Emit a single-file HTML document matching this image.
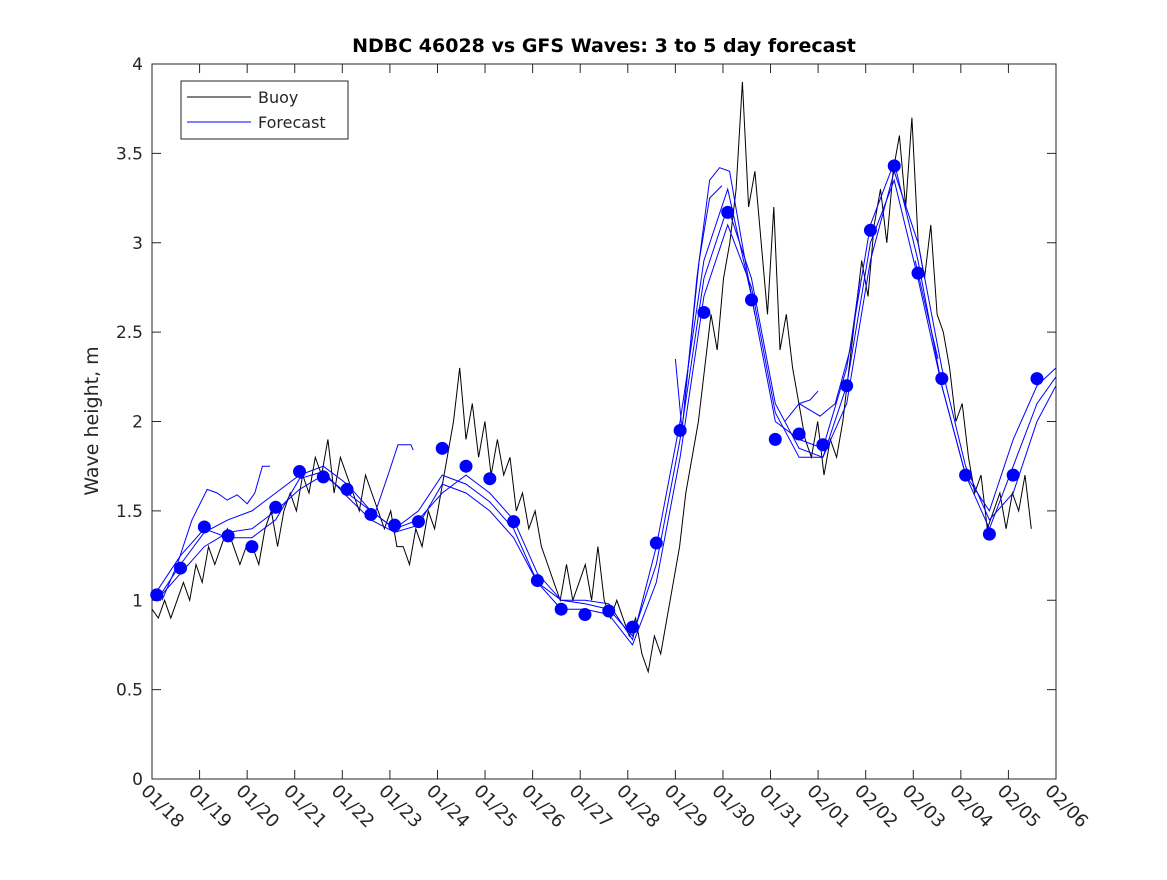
<!DOCTYPE html>
<html><head><meta charset="utf-8"><style>
body{margin:0;background:#fff}
svg text{font-family:"DejaVu Sans","Liberation Sans",sans-serif}
</style></head><body>
<svg id="chart" width="1167" height="875">
<rect width="1167" height="875" fill="#fff"/>
<text x="604" y="52" text-anchor="middle" font-size="19" font-weight="bold">NDBC 46028 vs GFS Waves: 3 to 5 day forecast</text>
<text transform="translate(98,421) rotate(-90)" text-anchor="middle" font-size="19" fill="#262626">Wave height, m</text>
<g id="axes"></g>
<g id="marks"></g>
<g>
<rect x="181" y="81" width="167" height="58" fill="#fff" stroke="#262626" stroke-width="1"/>
<line x1="187" y1="97" x2="251" y2="97" stroke="#000"/>
<text x="258" y="103" font-size="16" fill="#262626">Buoy</text>
<line x1="187" y1="122" x2="251" y2="122" stroke="#00f"/>
<text x="258" y="128" font-size="16" fill="#262626">Forecast</text>
</g>
</svg>
<script>
const xTickLabels=["01/18","01/19","01/20","01/21","01/22","01/23","01/24","01/25","01/26","01/27","01/28","01/29","01/30","01/31","02/01","02/02","02/03","02/04","02/05","02/06"];
const yTicks=[0,0.5,1,1.5,2,2.5,3,3.5,4];
const yTickLabels=["0","0.5","1","1.5","2","2.5","3","3.5","4"];
const buoyStart=0, buoyStepDays=0.132;
const buoy=[0.95,0.9,1.0,0.9,1.0,1.1,1.0,1.2,
1.1,1.3,1.2,1.3,1.4,1.3,1.2,1.3,
1.3,1.2,1.4,1.5,1.3,1.5,1.6,1.5,
1.7,1.6,1.8,1.7,1.9,1.6,1.8,1.7,
1.6,1.5,1.7,1.6,1.5,1.4,1.5,1.3,
1.3,1.2,1.4,1.3,1.5,1.4,1.6,1.8,
2.0,2.3,1.9,2.1,1.8,2.0,1.7,1.9,
1.7,1.8,1.5,1.6,1.4,1.5,1.3,1.2,
1.1,1.0,1.2,1.0,1.1,1.2,1.0,1.3,
1.0,0.9,1.0,0.9,0.8,0.9,0.7,0.6,
0.8,0.7,0.9,1.1,1.3,1.6,1.8,2.0,
2.3,2.6,2.4,2.8,3.0,3.3,3.9,3.2,
3.4,3.0,2.6,3.2,2.4,2.6,2.3,2.1,
1.9,1.8,2.0,1.7,1.9,1.8,2.0,
2.3,2.6,2.9,2.7,3.1,3.3,3.0,3.4,
3.6,3.2,3.7,3.0,2.8,3.1,2.6,2.5,
2.3,2.0,2.1,1.8,1.6,1.7,1.4,1.5,
1.6,1.4,1.6,1.5,1.7,1.4];
const dotTimes=[0.1,0.6,1.1,1.6,2.1,2.6,3.1,3.6,4.1,4.6,5.1,5.6,6.1,6.6,7.1,7.6,8.1,8.6,9.1,9.6,10.1,10.6,11.1,11.6,12.1,12.6,13.1,13.6,14.1,14.6,15.1,15.6,16.1,16.6,17.1,17.6,18.1,18.6];
const dotValues=[1.03,1.18,1.41,1.36,1.30,1.52,1.72,1.69,1.62,1.48,1.42,1.44,1.85,1.75,1.68,1.44,1.11,0.95,0.92,0.94,0.85,1.32,1.95,2.61,3.17,2.68,1.90,1.93,1.87,2.20,3.07,3.43,2.83,2.24,1.70,1.37,1.70,2.24];
const fcTimes=[0.1,0.6,1.1,1.6,2.1,2.6,3.1,3.6,4.1,4.6,5.1,5.6,6.1,6.6,7.1,7.6,8.1,8.6,9.1,9.6,10.1,10.6,11.1,11.6,12.1,12.6,13.1,13.6,14.1,14.6,15.1,15.6,16.1,16.6,17.1,17.6,18.1,18.6,19];
const fc1=[1.0,1.15,1.3,1.38,1.4,1.5,1.62,1.7,1.6,1.5,1.4,1.45,1.6,1.7,1.6,1.45,1.15,1.0,0.98,0.95,0.8,1.2,1.9,2.8,3.2,2.8,2.1,1.85,1.8,2.1,2.9,3.4,3.0,2.3,1.75,1.45,1.6,2.0,2.2];
const fc2=[1.0,1.2,1.38,1.45,1.5,1.6,1.7,1.75,1.65,1.5,1.4,1.5,1.7,1.65,1.55,1.4,1.1,1.0,1.0,0.98,0.78,1.3,2.0,2.9,3.3,2.7,2.0,1.9,1.85,2.3,3.1,3.45,2.9,2.2,1.7,1.4,1.75,2.1,2.25];
const fc3=[1.05,1.25,1.4,1.35,1.35,1.45,1.68,1.72,1.58,1.45,1.38,1.42,1.65,1.6,1.5,1.35,1.1,0.95,0.95,0.92,0.75,1.1,1.8,2.7,3.1,2.75,2.05,1.8,1.8,2.2,3.0,3.35,2.8,2.2,1.7,1.5,1.9,2.2,2.3];
const segATimes=[0.21,0.53,0.84,1.16,1.37,1.58,1.79,2.0,2.16,2.32,2.48], segAValues=[1.0,1.2,1.45,1.62,1.6,1.56,1.59,1.54,1.6,1.75,1.75];
const segBTimes=[4.64,4.96,5.17,5.44,5.49], segBValues=[1.45,1.7,1.87,1.87,1.84];
const segCTimes=[11.0,11.14], segCValues=[2.35,1.95];
const segDTimes=[11.14,11.45,11.72,11.93,12.14,12.4,12.67], segDValues=[1.95,2.8,3.35,3.42,3.4,3.0,2.6];
const segETimes=[11.19,11.5,11.72,11.98], segEValues=[2.1,2.9,3.25,3.32];
const segFTimes=[13.3,13.6,13.83,14.0], segFValues=[2.0,2.1,2.12,2.17];
const segGTimes=[13.6,14.04,14.36,14.67,14.88], segGValues=[2.1,2.03,2.1,2.4,2.8];
const segHTimes=[16.04,16.3,16.52], segHValues=[2.9,2.6,2.35];

const X0=152,X1=1056,Y0=779,Y1=64;
const xs=d=>X0+(X1-X0)*d/19;
const ys=v=>Y0-(Y0-Y1)*v/4;
const NS="http://www.w3.org/2000/svg";
function mk(tag,parent,attrs){const e=document.createElementNS(NS,tag);for(const k in attrs)e.setAttribute(k,attrs[k]);parent.appendChild(e);return e;}
const axes=document.getElementById('axes'), marks=document.getElementById('marks');
let r=mk('rect',axes,{x:X0,y:Y1,width:X1-X0,height:Y0-Y1,fill:'none',stroke:'#262626','stroke-width':1});


xTickLabels.forEach((l,i)=>{const x=xs(i);
 mk('line',axes,{x1:x,y1:Y0,x2:x,y2:Y0-9,stroke:'#262626'});
 mk('line',axes,{x1:x,y1:Y1,x2:x,y2:Y1+9,stroke:'#262626'});
 const t=mk('text',axes,{x:0,y:0,transform:`translate(${x-12},${Y0+13}) rotate(45)`,'font-size':18,fill:'#262626'});
 t.textContent=l;
 
 
});
yTicks.forEach((v,i)=>{const y=ys(v);
 mk('line',axes,{x1:X0,y1:y,x2:X0+9,y2:y,stroke:'#262626'});
 mk('line',axes,{x1:X1,y1:y,x2:X1-9,y2:y,stroke:'#262626'});
 const t=mk('text',axes,{x:X0-9,y:y+6,'text-anchor':'end','font-size':17,fill:'#262626'});
 t.textContent=yTickLabels[i];
 
 
});
function pathFrom(times,vals){let d='';times.forEach((t,i)=>{if(vals[i]==null)return;d+=(d?'L':'M')+xs(t).toFixed(1)+','+ys(vals[i]).toFixed(1);});return d;}
const bt=buoy.map((v,i)=>buoyStart+i*buoyStepDays);
let p=mk('path',marks,{d:pathFrom(bt,buoy),fill:'none',stroke:'#000','stroke-width':1});


[[fcTimes,fc1],[fcTimes,fc2],[fcTimes,fc3],[segATimes,segAValues],[segBTimes,segBValues],[segCTimes,segCValues],[segDTimes,segDValues],[segETimes,segEValues],[segFTimes,segFValues],[segGTimes,segGValues],[segHTimes,segHValues]].forEach(([t,v])=>{
 const q=mk('path',marks,{d:pathFrom(t,v),fill:'none',stroke:'#00f','stroke-width':1});
 
 
});
dotTimes.forEach((t,i)=>{
 const c=mk('circle',marks,{cx:xs(t),cy:ys(dotValues[i]),r:6.5,fill:'#00f'});
 
 
});
</script>
</body></html>
